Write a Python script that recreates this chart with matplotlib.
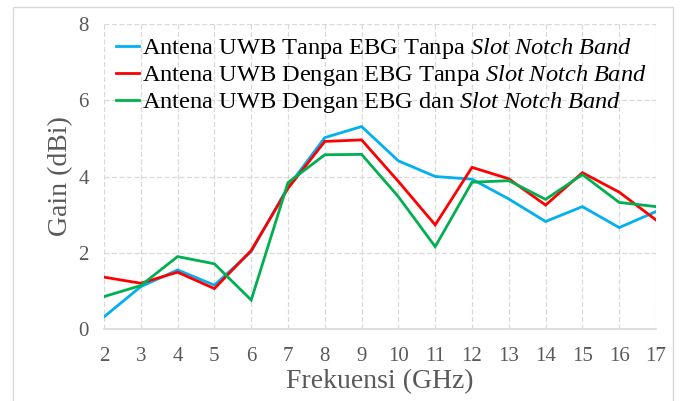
import matplotlib
matplotlib.use("Agg")
import matplotlib.pyplot as plt
from matplotlib.patches import Rectangle

plt.rcParams['font.family'] = ['Liberation Serif', 'DejaVu Serif']
plt.rcParams['mathtext.fontset'] = 'custom'
plt.rcParams['mathtext.rm'] = 'Liberation Serif'
plt.rcParams['mathtext.it'] = 'Liberation Serif:italic'

freq = [2, 3, 4, 5, 6, 7, 8, 9, 10, 11, 12, 13, 14, 15, 16, 17]
gain_tanpa_ebg = [0.32, 1.11, 1.55, 1.15, 2.03, 3.73, 5.02, 5.31, 4.41, 4.00, 3.93, 3.41, 2.82, 3.21, 2.66, 3.08]
gain_ebg_tanpa_slot = [1.36, 1.20, 1.49, 1.06, 2.06, 3.69, 4.92, 4.96, 3.87, 2.73, 4.24, 3.94, 3.25, 4.10, 3.59, 2.86]
gain_ebg_slot = [0.85, 1.14, 1.90, 1.71, 0.76, 3.84, 4.57, 4.58, 3.47, 2.16, 3.85, 3.89, 3.40, 4.05, 3.32, 3.21]

labels = [
    r"Antena UWB Tanpa EBG Tanpa $\mathit{Slot\ Notch\ Band}$",
    r"Antena UWB Dengan EBG Tanpa $\mathit{Slot\ Notch\ Band}$",
    r"Antena UWB Dengan EBG dan $\mathit{Slot\ Notch\ Band}$",
]
colors = ["#00B0F0", "#FF0000", "#00B050"]
xticks = list(range(2, 18))
yticks = [0, 2, 4, 6, 8]

fig = plt.figure(figsize=(6.82, 4.01), dpi=100)
fig.patches.append(Rectangle((13/682, -0.05), (673-13)/682, 0.05 + (401-7)/401,
                             transform=fig.transFigure, fill=False,
                             edgecolor="#D9D9D9", linewidth=1.0))
ax = fig.add_axes([104/682, (401-329)/401, (656-104)/682, (329-24)/401])

for ys, c, lab in zip([gain_tanpa_ebg, gain_ebg_tanpa_slot, gain_ebg_slot], colors, labels):
    ax.plot(freq, ys, color=c, linewidth=2.0, label=lab, solid_joinstyle='miter')

ax.set_xlim(2, 17)
ax.set_ylim(0, 8)
ax.set_xticks(xticks)
ax.set_yticks(yticks)
ax.grid(True, color="#D9D9D9", linestyle=(0, (4, 2)), linewidth=0.9)
ax.set_axisbelow(True)
for s in ["top", "right", "left"]:
    ax.spines[s].set_visible(False)
ax.spines["bottom"].set_color("#D9D9D9")
ax.spines["bottom"].set_linewidth(1.2)
ax.tick_params(axis="both", length=0, labelsize=15, labelcolor="#595959")
ax.tick_params(axis="x", pad=13)
ax.tick_params(axis="y", pad=11)
ax.set_xlabel("Frekuensi (GHz)", fontsize=20, color="#595959", labelpad=2)
ax.set_ylabel("Gain (dBi)", fontsize=20, color="#595959", labelpad=4)

leg = ax.legend(loc="upper left", bbox_to_anchor=(0.0, 1.0), frameon=False,
                fontsize=17.6, handlelength=0.95, handletextpad=0.12,
                labelspacing=0.08, borderaxespad=0.3, borderpad=0.2)

fig.savefig("out.png", dpi=100)
